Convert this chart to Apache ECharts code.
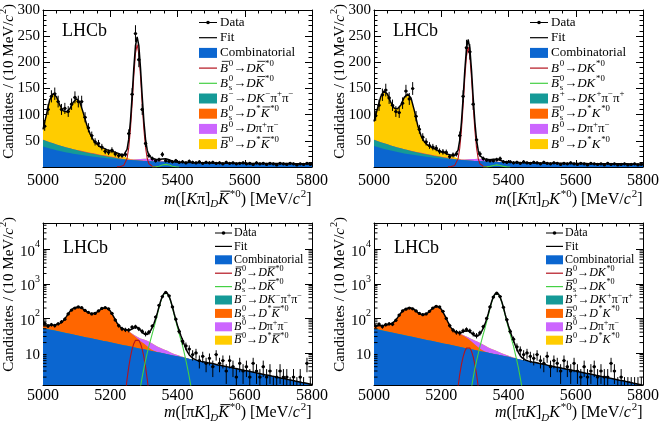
<!DOCTYPE html>
<html>
<head>
<meta charset="utf-8">
<script src="https://cdn.jsdelivr.net/npm/echarts@6.0.0/dist/echarts.min.js"></script>
<style>
html,body{margin:0;padding:0;background:#fff;}
#chart{width:662px;height:424px;}
</style>
</head>
<body>
<div id="chart"></div>
<script>
// ================= DATA =================
const binCenters = [5005,5015,5025,5035,5045,5055,5065,5075,5085,5095,5105,5115,5125,5135,5145,5155,5165,5175,5185,5195,5205,5215,5225,5235,5245,5255,5265,5275,5285,5295,5305,5315,5325,5335,5345,5355,5365,5375,5385,5395,5405,5415,5425,5435,5445,5455,5465,5475,5485,5495,5505,5515,5525,5535,5545,5555,5565,5575,5585,5595,5605,5615,5625,5635,5645,5655,5665,5675,5685,5695,5705,5715,5725,5735,5745,5755,5765,5775,5785,5795];
const massGrid = [5000,5010,5020,5030,5040,5050,5060,5070,5080,5090,5100,5110,5120,5130,5140,5150,5160,5170,5180,5190,5200,5210,5220,5230,5240,5250,5260,5270,5280,5290,5300,5310,5320,5330,5340,5350,5360,5370,5380,5390,5400,5410,5420,5430,5440,5450,5460,5470,5480,5490,5500,5510,5520,5530,5540,5550,5560,5570,5580,5590,5600,5610,5620,5630,5640,5650,5660,5670,5680,5690,5700,5710,5720,5730,5740,5750,5760,5770,5780,5790,5800];
const xTicks = [5000,5200,5400,5600,5800];
const linTicks = [50,100,150,200,250,300];
const logTicks = [10,100,1000,10000];
const logMinorTicks = [2,3,4,5,6,7,8,9,20,30,40,50,60,70,80,90,200,300,400,500,600,700,800,900,2000,3000,4000,5000,6000,7000,8000,9000,20000,30000,40000,50000];

// data (candidates per 10 MeV bin)
const dataTL = [78,110,135,140,125,110,112,106,120,133, 125,125,95,75,60,48,45,38,30,28, 32,25,22,22,24,64,139,255,205,110, 45,22,16,12,14,24,12,11,10,12, 9,10,8,11,9,8,10,7,9,8, 9,7,8,6,9,7,8,6,7,8, 6,7,5,8,6,7,5,7,6,4, 7,6,5,7,6,4,6,5,7,5];
const dataTR = [98,118,138,147,132,118,106,104,122,145, 130,150,97,72,57,48,41,38,36,30, 29,28,20,23,25,60,135,228,220,120, 52,25,16,13,12,12,14,16,10,9, 10,8,9,7,10,8,7,9,8,6, 9,7,6,8,7,5,7,6,8,6, 5,7,6,4,7,6,5,6,4,7, 5,6,4,5,6,4,5,6,4,5];
const dataBL = [72,60,66,62,70,80,95,135,175,200, 215,205,170,150,135,140,165,195,205,190, 140,90,62,50,47,46,56,58,50,42, 36,40,60,110,240,430,565,450,215,95, 42,22,16,13,9,10,6,8,5,7, 4,9,5,6,3,6,4,2,5,3, 4,2,5,3,2,4,2,3,1,2, 3,2,2,1,2,1,2,1,5,1];
const dataBR = [60,68,58,66,70,68,88,125,165,185, 200,190,165,140,128,135,160,200,225,215, 160,100,62,46,40,38,44,48,44,36, 32,38,58,100,215,415,540,430,210,92, 42,25,15,12,9,10,8,7,9,6, 5,8,4,6,5,3,6,4,3,5, 3,2,4,2,3,4,2,3,2,2, 5,3,1,2,1,1,1,1,1,1];

// combinatorial (on massGrid)
const combTL = [39.0,37.1,35.3,33.7,32.1,30.6,29.2,27.9,26.6,25.4,24.3, 23.3,22.3,21.4,20.5,19.7,18.9,18.1,17.5,16.8,16.2, 15.6,15.1,14.5,14.1,13.6,13.2,12.8,12.4,12.0,11.7, 11.3,11.0,10.7,10.5,10.2,10.0,9.8,9.5,9.3,9.1, 9.0,8.8,8.6,8.5,8.3,8.2,8.1,8.0,7.9,7.7, 7.6,7.6,7.5,7.4,7.3,7.2,7.2,7.1,7.0,7.0, 6.9,6.9,6.8,6.8,6.7,6.7,6.7,6.6,6.6,6.6, 6.5,6.5,6.5,6.5,6.4,6.4,6.4,6.4,6.4,6.3];
const combTR = [40.0,38.1,36.2,34.5,32.9,31.3,29.9,28.5,27.2,26.0,24.8, 23.7,22.7,21.8,20.9,20.0,19.2,18.4,17.7,17.0,16.4, 15.8,15.2,14.7,14.2,13.7,13.2,12.8,12.4,12.0,11.6, 11.3,11.0,10.7,10.4,10.1,9.9,9.6,9.4,9.2,9.0, 8.8,8.6,8.5,8.3,8.2,8.0,7.9,7.8,7.7,7.5, 7.4,7.3,7.2,7.1,7.0,7.0,6.9,6.8,6.7,6.7, 6.6,6.5,6.5,6.4,6.4,6.3,6.3,6.2,6.2,6.1, 6.1,6.1,6.0,6.0,6.0,5.9,5.9,5.9,5.8,5.8];
const combBL = [52.0,49.6,47.3,45.2,43.1,41.1,39.2,37.4,35.7,34.1,32.5, 31.0,29.6,28.2,26.9,25.7,24.5,23.4,22.3,21.3,20.3, 19.4,18.5,17.6,16.8,16.1,15.3,14.6,14.0,13.3,12.7, 12.1,11.6,11.0,10.5,10.1,9.6,9.2,8.7,8.3,8.0, 7.6,7.3,6.9,6.6,6.3,6.0,5.7,5.5,5.2,5.0, 4.8,4.5,4.3,4.1,3.95,3.77,3.59,3.43,3.27,3.12, 2.98,2.84,2.71,2.59,2.47,2.35,2.25,2.14,2.05,1.95, 1.86,1.78,1.69,1.62,1.54,1.47,1.40,1.34,1.28,1.22];
const combBR = [49.9,47.6,45.4,43.4,41.4,39.5,37.6,35.9,34.3,32.7,31.2, 29.8,28.4,27.1,25.8,24.7,23.5,22.5,21.4,20.4,19.5, 18.6,17.8,16.9,16.1,15.5,14.7,14.0,13.4,12.8,12.2, 11.6,11.1,10.6,10.1,9.7,9.2,8.8,8.4,8.0,7.7, 7.3,7.0,6.6,6.3,6.0,5.8,5.5,5.3,5.0,4.8, 4.6,4.3,4.1,3.9,3.8,3.6,3.45,3.3,3.14,3.0, 2.86,2.73,2.6,2.49,2.37,2.26,2.16,2.05,1.97,1.87, 1.79,1.71,1.62,1.56,1.48,1.41,1.34,1.29,1.23,1.17];

// B -> D K pi pi (from 5000)
const tealTL = [13,12.5,12,11.5,11,10.5,10,9.5,9,8.5,8,7.5,7,6.5,6,5.5,5,4.5,4,3.5,3,2.4,1.8,1.2,0.6,0.2,0];
const tealTR = [12,11.6,11.2,10.8,10.4,10,9.5,9,8.5,8,7.5,7,6.5,6,5.5,5,4.5,4,3.5,3,2.5,2,1.5,1,0.5,0.2,0];
const tealBL = [1,0.9,0.8,0.7,0.6,0.5,0.4,0.3,0.25,0.2,0.15,0.1,0.05,0];
const tealBR = [0.9,0.8,0.7,0.6,0.5,0.45,0.4,0.3,0.25,0.2,0.15,0.1,0.05,0];
// Bs -> D* K* (TL/TR from 5100, BL/BR from 5000)
const orangeTL = [0.3,0.5,0.6,0.7,0.8,0.9,1,1,1,1,1,1,0.9,0.8,0.7,0.6,0.5,0.4,0.3,0.2,0.1,0];
const orangeTR = [0.3,0.4,0.5,0.6,0.7,0.8,0.9,0.9,0.9,0.9,0.9,0.9,0.8,0.7,0.6,0.5,0.4,0.3,0.2,0.1,0.05,0];
const orangeBL = [9,11,12.9,16.6,22.3,29.8,45.1,77.2,124,160.7,177.4,176.9,155.4,129.8,115.1,114.3,127.5,154.6,175.7,176.7,144.7,92.6,55.5,38.4,32,28,23,17.5,12.5,8.5,6,3.5,1.5,0.5,0.1,0];
const orangeBR = [8,10.5,14,18,23,29.4,41.7,68.7,110.5,147.1,166.7,170.1,151.5,122.9,106.2,105.3,121.5,157.5,193.6,201.6,165.5,106.4,60.2,35,25.8,22,19,16,12.5,8.5,5.5,3,1.2,0.4,0.1,0];
// B0 -> D pi pi (from 5250)
const violetTL = [0.3,0.6,1.2,2,3,4,4.5,4.5,4,3,2,1.2,0.6,0.3,0];
const violetTR = [0.3,0.6,1.2,2,3,3.8,4.3,4.3,3.8,2.9,2,1.2,0.6,0.3,0];
const violetBL = [0.5,1,1.8,3,4.5,6,7,7,6,4.8,3.8,3,2.3,1.6,1.1,0.7,0.4,0.2,0];
const violetBR = [0.5,0.9,1.6,2.7,4,5.4,6.3,6.3,5.4,4.3,3.4,2.7,2,1.4,1,0.6,0.35,0.15,0];
// B0 -> D* K* (from 5000)
const yellowTL = [20,50,81,95,91,77,68,68,76,90,98,92,73,52,36,25,19,15,13.5,11.7,10.8,10,9,7,4.5,2.5,1,0.3,0];
const yellowTR = [35,61,87,100,96,82,73,74,83,99,107,101,78,51,32.5,22,17,14.5,12.8,11,9.2,8.4,6.6,5.5,3.5,1.5,0.5,0.2,0];
const yellowBL = [3,2.5,2,1.5,1,0.6,0.3,0.1,0];
const yellowBR = [3,2.5,2,1.5,1,0.6,0.3,0.1,0];

// signal shapes [mass, candidates]
const redTL = [[5220,0.2],[5225,0.4],[5230,0.8],[5235,1.5],[5240,3],[5245,6.2],[5250,16.3],[5255,37],[5260,72],[5265,120],[5270,174],[5275,217],[5280,234],[5285,217],[5290,174],[5295,120],[5300,72],[5305,37],[5310,16.3],[5315,6.2],[5320,3],[5325,1.5],[5330,0.8],[5335,0.4],[5340,0.2]];
const redTR = [[5220,0.2],[5225,0.4],[5230,0.8],[5235,1.5],[5240,2.9],[5245,6.1],[5250,16],[5255,36],[5260,70.5],[5265,117],[5270,170],[5275,212],[5280,229],[5285,212],[5290,170],[5295,117],[5300,70.5],[5305,36],[5310,16],[5315,6.1],[5320,2.9],[5325,1.5],[5330,0.8],[5335,0.4],[5340,0.2]];
const greenTL = [[5325,0.05],[5330,0.13],[5335,0.35],[5340,0.8],[5345,1.5],[5350,2.6],[5355,3.7],[5360,4.6],[5365,5],[5370,4.6],[5375,3.7],[5380,2.6],[5385,1.5],[5390,0.8],[5395,0.35],[5400,0.13],[5405,0.05]];
const greenTR = [[5325,0.04],[5330,0.1],[5335,0.28],[5340,0.64],[5345,1.2],[5350,2.1],[5355,3],[5360,3.7],[5365,4],[5370,3.7],[5375,3],[5380,2.1],[5385,1.2],[5390,0.64],[5395,0.28],[5400,0.1],[5405,0.04]];
const redBL = [[5235,0.06],[5240,0.22],[5245,0.67],[5250,1.75],[5255,3.9],[5260,7.65],[5265,12.9],[5270,18.6],[5275,23.2],[5280,25],[5285,23.2],[5290,18.6],[5295,12.9],[5300,7.65],[5305,3.9],[5310,1.75],[5315,0.67],[5320,0.22],[5325,0.06]];
const redBR = [[5235,0.04],[5240,0.13],[5245,0.4],[5250,1.05],[5255,2.4],[5260,4.6],[5265,7.7],[5270,11.2],[5275,13.9],[5280,15],[5285,13.9],[5290,11.2],[5295,7.7],[5300,4.6],[5305,2.4],[5310,1.05],[5315,0.4],[5320,0.13],[5325,0.04]];
const greenBL = [[5280,0.27],[5285,0.54],[5290,1.06],[5295,2.0],[5300,3.6],[5305,6.1],[5310,10],[5315,16],[5320,24],[5325,36.5],[5330,54],[5335,83],[5340,129],[5345,204],[5350,307],[5355,425],[5360,522],[5365,560],[5370,522],[5375,425],[5380,307],[5385,204],[5390,129],[5395,83],[5400,54],[5405,36.5],[5410,24],[5415,16],[5420,10],[5425,6.1],[5430,3.6],[5435,2.0],[5440,1.06],[5445,0.54],[5450,0.27]];
const greenBR = [[5280,0.26],[5285,0.52],[5290,1.0],[5295,1.9],[5300,3.5],[5305,5.9],[5310,9.6],[5315,15.4],[5320,23],[5325,35],[5330,52],[5335,80],[5340,124],[5345,197],[5350,296],[5355,410],[5360,503],[5365,540],[5370,503],[5375,410],[5380,296],[5385,197],[5390,124],[5395,80],[5400,52],[5405,35],[5410,23],[5415,15.4],[5420,9.6],[5425,5.9],[5430,3.5],[5435,1.9],[5440,1.0],[5445,0.52],[5450,0.26]];

// texts: [text, flags]  i=italic ^=sup _=sub k=stack under previous sup o=overline
const legendBarB = [
  [['Data']], [['Fit']], [['Combinatorial']],
  [['B','io'],['0','^'],['\u2192'],['D','i'],['K','io'],['*0','^']],
  [['B','i'],['0','^'],['s','_k'],['\u2192'],['D','i'],['K','io'],['*0','^']],
  [['B','i'],['\u2212','^'],['\u2192'],['D','i'],['K','i'],['\u2212','^'],['\u03c0'],['+','^'],['\u03c0'],['\u2212','^']],
  [['B','i'],['0','^'],['s','_k'],['\u2192'],['D','i'],['*','^'],['K','io'],['*0','^']],
  [['B','i'],['0','^'],['\u2192'],['D','i'],['\u03c0'],['+','^'],['\u03c0'],['\u2212','^']],
  [['B','io'],['0','^'],['\u2192'],['D','i'],['*','^'],['K','io'],['*0','^']]
];
const legendB = [
  [['Data']], [['Fit']], [['Combinatorial']],
  [['B','i'],['0','^'],['\u2192'],['D','i'],['K','i'],['*0','^']],
  [['B','io'],['0','^'],['s','_k'],['\u2192'],['D','i'],['K','i'],['*0','^']],
  [['B','i'],['+','^'],['\u2192'],['D','i'],['K','i'],['+','^'],['\u03c0'],['\u2212','^'],['\u03c0'],['+','^']],
  [['B','io'],['0','^'],['s','_k'],['\u2192'],['D','i'],['*','^'],['K','i'],['*0','^']],
  [['B','i'],['0','^'],['\u2192'],['D','i'],['\u03c0'],['+','^'],['\u03c0'],['\u2212','^']],
  [['B','i'],['0','^'],['\u2192'],['D','i'],['*','^'],['K','i'],['*0','^']]
];
const xTitleTL = [['m','i'],['(['],['K','i'],['\u03c0'],[']'],['D','_i'],['K','io'],['*0','^'],[') [MeV/'],['c','i'],['2','^'],[']']];
const xTitleTR = [['m','i'],['(['],['K','i'],['\u03c0'],[']'],['D','_i'],['K','i'],['*0','^'],[') [MeV/'],['c','i'],['2','^'],[']']];
const xTitleBL = [['m','i'],['(['],['\u03c0'],['K','i'],[']'],['D','_i'],['K','io'],['*0','^'],[') [MeV/'],['c','i'],['2','^'],[']']];
const xTitleBR = [['m','i'],['(['],['\u03c0'],['K','i'],[']'],['D','_i'],['K','i'],['*0','^'],[') [MeV/'],['c','i'],['2','^'],[']']];
const yTitle = [['Candidates / (10 MeV/'],['c','i'],['2','^'],[')']];
const expLabel = 'LHCb';

// ================= BUILD =================
const FONT = '"Liberation Serif","Times New Roman",serif';
const COL = {comb:'#0b66d0', teal:'#159a97', orange:'#ff6600', violet:'#cc66ff', yellow:'#ffcc00', red:'#b3121e', green:'#44d044'};
const STACK_COLORS = [COL.comb, COL.teal, COL.orange, COL.violet, COL.yellow];
const LEGEND_ICONS = [
  {icon:'data'}, {icon:'line', color:'#000'}, {icon:'rect', color:COL.comb},
  {icon:'line', color:COL.red}, {icon:'line', color:COL.green},
  {icon:'rect', color:COL.teal}, {icon:'rect', color:COL.orange},
  {icon:'rect', color:COL.violet}, {icon:'rect', color:COL.yellow}
];

function onGrid(start, vals) {
  return massGrid.map(m => { const i = Math.round((m - start) / 10); return (i >= 0 && i < vals.length) ? vals[i] : 0; });
}
[dataTL,dataTR,dataBL,dataBR].forEach(a => { if (a.length !== binCenters.length) throw new Error('data len ' + a.length); });
[combTL,combTR,combBL,combBR].forEach(a => { if (a.length !== massGrid.length) throw new Error('comb len ' + a.length); });

// cumulative stack table (component k drawn as sum of components 0..k)
function cumulative(comps) {
  const out = []; let run = massGrid.map(() => 0);
  comps.forEach(a => { run = run.map((v, i) => v + a[i]); out.push(run.slice()); });
  return out;
}

const mctx = document.createElement('canvas').getContext('2d');
function fontStr(size, it) { return (it ? 'italic ' : '') + size + 'px ' + FONT; }
function textWidth(t, size, it) { mctx.font = fontStr(size, it); return mctx.measureText(t).width; }

function mathGroup(segs, size) {
  let x = 0, supStart = 0, prevItalic = false;
  const children = [];
  segs.forEach(seg => {
    const t = seg[0], f = seg[1] || '';
    const it = f.indexOf('i') >= 0, sup = f.indexOf('^') >= 0, sub = f.indexOf('_') >= 0;
    const stack = f.indexOf('k') >= 0, over = f.indexOf('o') >= 0;
    const s = (sup || sub) ? size * 0.68 : size;
    const dy = sup ? -size * 0.36 : (sub ? size * 0.3 : 0);
    let x0 = stack ? supStart : x;
    if (sup && prevItalic) x0 += size * 0.06;
    const w = textWidth(t, s, it);
    children.push({type:'text', x:x0, y:dy, silent:true,
      style:{text:t, font:fontStr(s, it), fill:'#000', align:'left', verticalAlign:'middle'}});
    if (over) {
      const sh = it ? size * 0.12 : 0;
      children.push({type:'line', silent:true,
        shape:{x1:x0 + sh + size * 0.02, y1:-size * 0.52, x2:x0 + w + sh * 0.6, y2:-size * 0.52},
        style:{stroke:'#000', lineWidth:Math.max(0.8, size / 16)}});
    }
    if (sup) supStart = x0;
    x = stack ? Math.max(x, x0 + w) : x0 + w;
    prevItalic = it && !sup && !sub;
  });
  return {children, width:x};
}

function interpGrid(arr, m) {
  const f = (m - massGrid[0]) / 10; const i = Math.floor(f); const t = f - i;
  if (i < 0) return arr[0];
  if (i >= arr.length - 1) return arr[arr.length - 1];
  return arr[i] * (1 - t) + arr[i + 1] * t;
}
function interpPairs(p, m) {
  if (m < p[0][0] || m > p[p.length - 1][0]) return 0;
  for (let k = 0; k < p.length - 1; k++) {
    if (m >= p[k][0] && m <= p[k + 1][0]) {
      const t = (m - p[k][0]) / (p[k + 1][0] - p[k][0]);
      return p[k][1] * (1 - t) + p[k + 1][1] * t;
    }
  }
  return 0;
}
function fitCurve(comps, sigs) {
  const xs = new Set(massGrid);
  sigs.forEach(s => s.forEach(pt => xs.add(pt[0])));
  return [...xs].sort((a, b) => a - b).map(m =>
    [m, comps.reduce((s, a) => s + interpGrid(a, m), 0) + sigs.reduce((s, p) => s + interpPairs(p, m), 0)]);
}
function errPoints(vals, log) {
  const out = [];
  binCenters.forEach((m, i) => {
    const v = vals[i]; if (log && v <= 0) return;
    const e = Math.sqrt(v);
    let lo = v - e; if (log) lo = Math.max(lo, 0.05);
    out.push([m, v, lo, v + e]);
  });
  return out;
}

const PANELS = [
  {box:{left:43, top:10, width:269, height:157}, log:false, data:dataTL,
   comps:[combTL, onGrid(5000,tealTL), onGrid(5100,orangeTL), onGrid(5250,violetTL), onGrid(5000,yellowTL)],
   red:redTL, green:greenTL, legend:legendBarB, xTitle:xTitleTL, xLabelMargin:6,
   leg:{iconX:199, textX:220, y0:22.5, dy:15.2, font:13, iconW:18, iconH:10},
   lhcb:{x:62, y:31.5}, xt:{right:311.5, y:199.5}, yt:{x:9, end:4}},
  {box:{left:374, top:10, width:269, height:157}, log:false, data:dataTR,
   comps:[combTR, onGrid(5000,tealTR), onGrid(5100,orangeTR), onGrid(5250,violetTR), onGrid(5000,yellowTR)],
   red:redTR, green:greenTR, legend:legendB, xTitle:xTitleTR, xLabelMargin:6,
   leg:{iconX:530, textX:551, y0:22.5, dy:15.2, font:13, iconW:18, iconH:10},
   lhcb:{x:393, y:31.5}, xt:{right:642.5, y:199.5}, yt:{x:340, end:4}},
  {box:{left:43, top:223, width:269, height:162}, log:true, data:dataBL,
   comps:[combBL, onGrid(5000,tealBL), onGrid(5000,orangeBL), onGrid(5250,violetBL), onGrid(5000,yellowBL)],
   red:redBL, green:greenBL, legend:legendBarB, xTitle:xTitleBL, xLabelMargin:3,
   leg:{iconX:215, textX:234, y0:233, dy:13.4, font:12, iconW:17, iconH:9},
   lhcb:{x:63, y:248.5}, xt:{right:311.5, y:413}, yt:{x:9, end:217}},
  {box:{left:374, top:223, width:269, height:162}, log:true, data:dataBR,
   comps:[combBR, onGrid(5000,tealBR), onGrid(5000,orangeBR), onGrid(5250,violetBR), onGrid(5000,yellowBR)],
   red:redBR, green:greenBR, legend:legendB, xTitle:xTitleBR, xLabelMargin:3,
   leg:{iconX:546, textX:565, y0:233, dy:13.4, font:12, iconW:17, iconH:9},
   lhcb:{x:394, y:248.5}, xt:{right:642.5, y:413}, yt:{x:340, end:217}}
];

const axisCommon = {
  axisLine:{show:true, onZero:false, lineStyle:{color:'#000', width:1}},
  axisTick:{show:true, inside:true, length:7, lineStyle:{color:'#000', width:1}},
  splitLine:{show:false}, minorSplitLine:{show:false}
};
function xAxisDef(g, pos, labels, p) {
  return Object.assign({gridIndex:g, type:'value', position:pos, min:5000, max:5800, interval:200,
    minorTick:{show:true, splitNumber:5, length:3.5, lineStyle:{color:'#000', width:1}},
    axisLabel:{show:labels, margin:p.xLabelMargin, fontSize:16, fontFamily:FONT, color:'#000',
      showMinLabel:true, showMaxLabel:true, formatter:v => xTicks.indexOf(v) >= 0 ? String(v) : ''}}, axisCommon);
}
function yAxisDef(g, pos, labels, p) {
  if (!p.log) {
    return Object.assign({gridIndex:g, type:'value', position:pos, min:0, max:300, interval:50,
      minorTick:{show:true, splitNumber:5, length:3.5, lineStyle:{color:'#000', width:1}},
      axisLabel:{show:labels, margin:3, fontSize:15, fontFamily:FONT, color:'#000',
        formatter:v => linTicks.indexOf(v) >= 0 ? String(v) : ''}}, axisCommon);
  }
  return Object.assign({gridIndex:g, type:'log', logBase:10, position:pos, min:1.18, max:58000,
    minorTick:{show:false},
    axisLabel:{show:labels, margin:3, color:'#000',
      formatter:v => {
        const e = Math.log10(v), r = Math.round(e);
        if (Math.abs(e - r) > 1e-6 || logTicks.indexOf(Math.pow(10, r)) < 0) return '';
        return r === 1 ? '{b|10}' : '{b|10}{s|' + r + '}';
      },
      rich:{b:{fontSize:15, fontFamily:FONT, color:'#000', lineHeight:20, verticalAlign:'bottom'},
            s:{fontSize:10, fontFamily:FONT, color:'#000', lineHeight:10, verticalAlign:'top'}}}}, axisCommon);
}

const option = {
  animation:false, backgroundColor:'#fff', textStyle:{fontFamily:FONT},
  grid:PANELS.map(p => Object.assign({show:false, containLabel:false, outerBoundsMode:'none'}, p.box)),
  xAxis:[], yAxis:[], series:[], graphic:[]
};

PANELS.forEach((p, g) => {
  const xb = option.xAxis.length, yb = option.yAxis.length;
  option.xAxis.push(xAxisDef(g, 'bottom', true, p), xAxisDef(g, 'top', false, p));
  option.yAxis.push(yAxisDef(g, 'left', true, p), yAxisDef(g, 'right', false, p));
  const ax = {xAxisIndex:xb, yAxisIndex:yb};
  const cum = cumulative(p.comps);
  // draw topmost cumulative first so each lower component paints over it
  for (let k = cum.length - 1; k >= 0; k--) {
    option.series.push(Object.assign({type:'line', data:massGrid.map((m, i) => [m, cum[k][i]]),
      symbol:'none', showSymbol:false, smooth:false, lineStyle:{width:0, opacity:0},
      areaStyle:{color:STACK_COLORS[k], opacity:1}, itemStyle:{color:STACK_COLORS[k]}, z:1, silent:true, clip:true}, ax));
  }
  option.series.push(Object.assign({type:'line', data:p.red, symbol:'none', showSymbol:false,
    lineStyle:{color:COL.red, width:1.1}, z:3, silent:true, clip:true}, ax));
  option.series.push(Object.assign({type:'line', data:p.green, symbol:'none', showSymbol:false,
    lineStyle:{color:COL.green, width:1.1}, z:3, silent:true, clip:true}, ax));
  option.series.push(Object.assign({type:'line', data:fitCurve(p.comps, [p.red, p.green]), symbol:'none', showSymbol:false,
    lineStyle:{color:'#000', width:1.5}, z:4, silent:true, clip:true}, ax));
  option.series.push(Object.assign({type:'custom', data:errPoints(p.data, p.log), encode:{x:0, y:1}, z:5, clip:true, silent:true,
    renderItem:(params, api) => {
      const x = api.value(0), y = api.value(1);
      const pc = api.coord([x, y]), pl = api.coord([x, api.value(2)]), ph = api.coord([x, api.value(3)]);
      const a = api.coord([x - 5, y]), b = api.coord([x + 5, y]);
      return {type:'group', children:[
        {type:'line', shape:{x1:pc[0], y1:pl[1], x2:pc[0], y2:ph[1]}, style:{stroke:'#000', lineWidth:1}},
        {type:'line', shape:{x1:a[0], y1:pc[1], x2:b[0], y2:pc[1]}, style:{stroke:'#000', lineWidth:1}},
        {type:'circle', shape:{cx:pc[0], cy:pc[1], r:1.6}, style:{fill:'#000'}}
      ]};
    }}, ax));
  if (p.log) {
    option.series.push(Object.assign({type:'custom', data:logMinorTicks.map(v => [5000, v]), encode:{x:0, y:1}, z:6, silent:true,
      renderItem:(params, api) => {
        const cs = params.coordSys; const y = api.coord([5000, api.value(1)])[1];
        if (y < cs.y || y > cs.y + cs.height) return null;
        return {type:'group', children:[
          {type:'line', shape:{x1:cs.x, y1:y, x2:cs.x + 3.5, y2:y}, style:{stroke:'#000', lineWidth:1}},
          {type:'line', shape:{x1:cs.x + cs.width - 3.5, y1:y, x2:cs.x + cs.width, y2:y}, style:{stroke:'#000', lineWidth:1}}
        ]};
      }}, ax));
  }

  option.graphic.push({type:'text', x:p.lhcb.x, y:p.lhcb.y, silent:true,
    style:{text:expLabel, font:'18px ' + FONT, fill:'#000', verticalAlign:'middle'}});
  const L = p.leg;
  p.legend.forEach((segs, r) => {
    const y = L.y0 + r * L.dy; const ic = LEGEND_ICONS[r];
    if (ic.icon === 'data') {
      option.graphic.push({type:'line', silent:true, shape:{x1:L.iconX, y1:y, x2:L.iconX + L.iconW, y2:y}, style:{stroke:'#000', lineWidth:1}});
      option.graphic.push({type:'circle', silent:true, shape:{cx:L.iconX + L.iconW / 2, cy:y, r:1.8}, style:{fill:'#000'}});
    } else if (ic.icon === 'line') {
      option.graphic.push({type:'line', silent:true, shape:{x1:L.iconX, y1:y, x2:L.iconX + L.iconW, y2:y}, style:{stroke:ic.color, lineWidth:1.2}});
    } else {
      option.graphic.push({type:'rect', silent:true, shape:{x:L.iconX, y:y - L.iconH / 2, width:L.iconW, height:L.iconH}, style:{fill:ic.color}});
    }
    const mg = mathGroup(segs, L.font);
    option.graphic.push({type:'group', x:L.textX, y:y, silent:true, children:mg.children});
  });
  const xt = mathGroup(p.xTitle, 16);
  option.graphic.push({type:'group', x:p.xt.right - xt.width, y:p.xt.y, silent:true, children:xt.children});
  const yt = mathGroup(yTitle, 15);
  option.graphic.push({type:'group', x:p.yt.x, y:p.yt.end + yt.width, rotation:Math.PI / 2, silent:true, children:yt.children});
});

const chart = echarts.init(document.getElementById('chart'), null, {renderer:'canvas'});
chart.setOption(option);
</script>
</body>
</html>
